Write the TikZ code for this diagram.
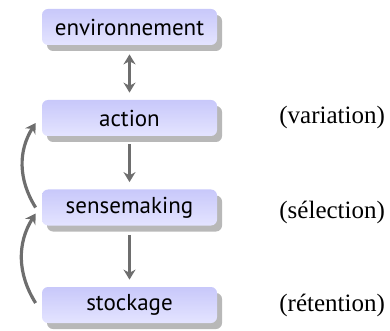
\documentclass[tikz,border=0pt]{standalone}
\usepackage{fontspec}
\setmainfont{Liberation Serif}
\newfontfamily\boxfont{PT Sans}
\usetikzlibrary{shadows,arrows.meta,calc}
\definecolor{boxtop}{RGB}{200,200,250}
\definecolor{boxbot}{RGB}{228,228,255}
\definecolor{arrgray}{RGB}{110,110,110}
\tikzset{
  stagebox/.style={rounded corners=3pt, minimum width=87.5pt, minimum height=18pt,
    top color=boxtop, bottom color=boxbot, draw=none,
    drop shadow={shadow xshift=2.5pt, shadow yshift=-3pt, fill=black!28, opacity=1},
    font=\boxfont\fontsize{11.5}{13}\selectfont, inner sep=0pt},
  lbl/.style={font=\fontsize{12.5}{14}\selectfont, anchor=west, inner sep=0pt},
  tip/.tip={Stealth[length=5pt,width=6pt]},
  flow/.style={draw=arrgray, line width=1.6pt, -tip},
  flow2/.style={draw=arrgray, line width=1.6pt, tip-tip},
}
\begin{document}
\begin{tikzpicture}[x=0.5pt,y=-0.5pt]
\useasboundingbox (0,0) rectangle (390,331);
\node[stagebox] (env) at (129.5,27) {environnement};
\node[stagebox] (act) at (129.5,118) {action};
\node[stagebox] (sen) at (129.5,207.5) {sensemaking};
\node[stagebox] (sto) at (129.5,305) {stockage};
\node[lbl] (var) at (279,117.5) {(variation)};
\node[lbl] (sel) at (279,212) {(sélection)};
\node[lbl] (ret) at (279,305) {(rétention)};
\draw[flow2] ($(env.south)+(0,9)$) -- ($(act.north)+(0,-7)$);
\draw[flow] ($(act.south)+(0,8)$) -- ($(sen.north)+(0,-7)$);
\draw[flow] ($(sen.south)+(0,9)$) -- ($(sto.north)+(0,-7)$);
\coordinate (c1s) at ($(sen.west)+(-6,0)$);
\coordinate (c1e) at ($(act.west)+(-6,5)$);
\coordinate (c2s) at ($(sto.west)+(-6,-2)$);
\coordinate (c2e) at ($(sen.west)+(-6,6)$);
\draw[flow] (c1s) to[bend left=32] (c1e);
\draw[flow] (c2s) to[bend left=32] (c2e);
\end{tikzpicture}
\end{document}
